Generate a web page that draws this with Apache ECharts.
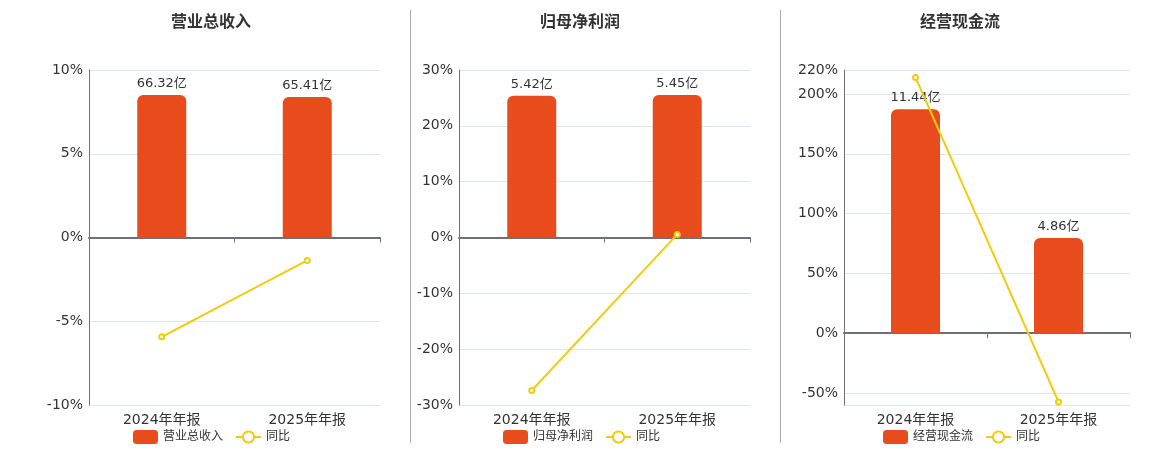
<!DOCTYPE html>
<html>
<head>
<meta charset="utf-8">
<script src="https://cdn.jsdelivr.net/npm/echarts@6/dist/echarts.min.js"></script>
<style>
  html, body { margin: 0; padding: 0; background: #fff; }
  #main { width: 1160px; height: 450px; }
</style>
</head>
<body>
<div id="main"></div>
<script>
// data
const periods = ['2024年年报', '2025年年报'];
const titles = ['营业总收入', '归母净利润', '经营现金流'];
const revenue = [66.32, 65.41];        // 亿
const revenueYoy = [-5.93, -1.37];     // %
const profit = [5.42, 5.45];
const profitYoy = [-27.4, 0.55];
const cashflow = [11.44, 4.86];
const cashflowYoy = [213.8, -57.5];
const pctMin = [-10, -30, -60];
const pctMax = [10, 30, 220];
const pctStep = [5, 10, 50];

const barValues = [revenue, profit, cashflow];
const yoyValues = [revenueYoy, profitYoy, cashflowYoy];

const chart = echarts.init(document.getElementById('main'));

const FONT = 'DejaVu Sans, "Noto Sans CJK SC", sans-serif';
const BAR = '#E84C1D';
const LINE = '#F2CB10';
const grids = [
  { left: 89, width: 291 },
  { left: 459, width: 291 },
  { left: 844, width: 286 }
];
const centers = [211, 580, 960];
const legendLeft = [128, 498, 878];

const option = {
  animation: false,
  textStyle: { fontFamily: FONT },
  grid: [], xAxis: [], yAxis: [], series: [], legend: [],
  graphic: [
    { type: 'line', shape: { x1: 410.5, y1: 10, x2: 410.5, y2: 443 }, style: { stroke: '#aaa', lineWidth: 1 } },
    { type: 'line', shape: { x1: 780.5, y1: 10, x2: 780.5, y2: 443 }, style: { stroke: '#aaa', lineWidth: 1 } }
  ]
};

titles.forEach((t, i) => {
  option.graphic.push({
    type: 'text', x: centers[i], y: 15,
    style: { text: t, fontSize: 16, fontWeight: 'bold', fill: '#333', textAlign: 'center', fontFamily: FONT }
  });

  option.grid.push({ left: grids[i].left, width: grids[i].width, top: 70, height: 335 });

  // label axis at the bottom
  option.xAxis.push({
    type: 'category', gridIndex: i, data: periods, position: 'bottom',
    axisLine: { show: false, onZero: false }, axisTick: { show: false },
    axisLabel: { fontSize: 14, color: '#333', margin: 8 }
  });
  // zero line with ticks
  option.xAxis.push({
    type: 'category', gridIndex: i, data: periods, position: 'bottom',
    axisLine: { onZero: true, lineStyle: { color: '#6e7079', width: 2 } },
    axisTick: { show: true, length: 5, lineStyle: { color: '#6e7079' } },
    axisLabel: { show: false }
  });

  // the cash-flow axis keeps 0 on a tick while min/max are off the step
  const stepped = pctMin[i] % pctStep[i] === 0;
  option.yAxis.push({
    type: 'value', gridIndex: i, min: pctMin[i], max: pctMax[i],
    interval: stepped ? pctStep[i] : undefined,
    axisLine: { show: true, lineStyle: { color: '#6e7079' } },
    axisTick: { show: false },
    axisLabel: { formatter: '{value}%', fontSize: 14, color: '#333', margin: 6, showMinLabel: stepped ? true : false },
    splitLine: { lineStyle: { color: '#e0e6f1' } }
  });
  const bmax = Math.max(...barValues[i]) * 1.175;
  option.yAxis.push({
    type: 'value', gridIndex: i, show: false, position: 'right',
    min: bmax * pctMin[i] / pctMax[i], max: bmax,
    splitLine: { show: false }
  });

  option.series.push({
    name: t, type: 'bar', xAxisIndex: i * 2, yAxisIndex: i * 2 + 1,
    data: barValues[i], barWidth: 49,
    itemStyle: { color: BAR, borderRadius: [6, 6, 0, 0] },
    label: { show: true, position: 'top', formatter: p => p.value + '亿', fontSize: 13, color: '#333', distance: 5 }
  });
  option.series.push({
    name: '同比', type: 'line', xAxisIndex: i * 2, yAxisIndex: i * 2,
    data: yoyValues[i], symbol: 'emptyCircle', symbolSize: 5, z: 5,
    lineStyle: { color: LINE, width: 2 }, itemStyle: { color: LINE, borderWidth: 1.5 }
  });

  option.legend.push({
    left: legendLeft[i], top: 425, itemWidth: 25, itemHeight: 14, itemGap: 12,
    data: [t, '同比'], textStyle: { fontSize: 12, color: '#333' },
    selectedMode: false
  });
});

chart.setOption(option);
</script>
</body>
</html>
